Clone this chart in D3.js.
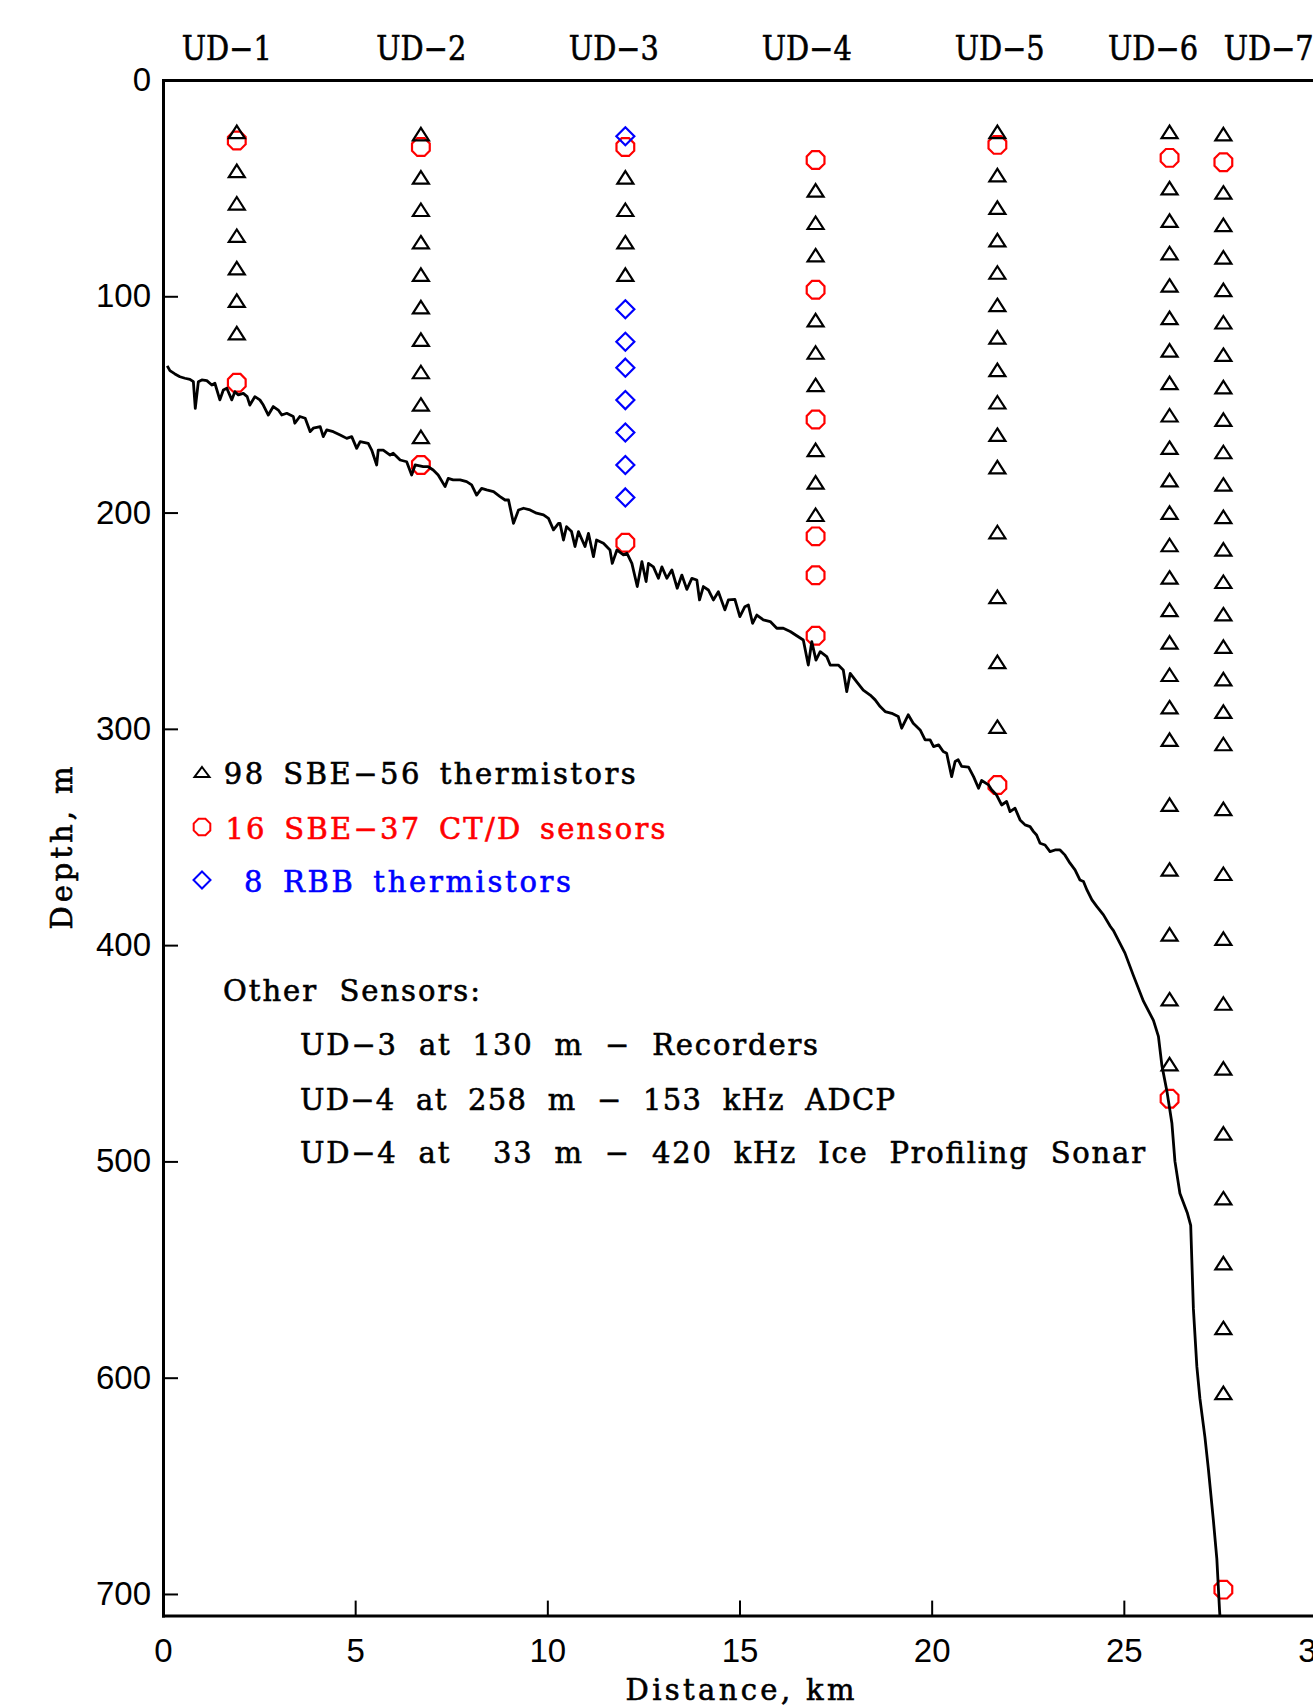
<!DOCTYPE html>
<html><head><meta charset="utf-8">
<script src="https://cdn.jsdelivr.net/npm/d3@7"></script>
<style>html,body{margin:0;padding:0;background:#fff;overflow:hidden}</style>
</head><body>
<svg id="chart" width="1313" height="1705" style="display:block"></svg>
<script>
// ---------------- data ----------------
const moorings   = ["UD−1","UD−2","UD−3","UD−4","UD−5","UD−6","UD−7"];
const mooringKm  = [1.92, 6.71, 12.03, 16.98, 21.71, 26.19, 27.59];
const labelKm    = [1.66, 6.72, 11.73, 16.75, 21.77, 25.76, 28.77];

const thermDepths = [
  [24, 42, 57, 72, 87, 102, 117],
  [25, 45, 60, 75, 90, 105, 120, 135, 150, 165],
  [45, 60, 75, 90],
  [51, 66, 81, 111, 126, 141, 171, 186, 201],
  [24, 44, 59, 74, 89, 104, 119, 134, 149, 164, 179, 209, 239, 269, 299],
  [24, 50, 65, 80, 95, 110, 125, 140, 155, 170, 185, 200, 215, 230, 245, 260, 275, 290, 305, 335, 365, 395, 425, 455],
  [25, 52, 67, 82, 97, 112, 127, 142, 157, 172, 187, 202, 217, 232, 247, 262, 277, 292, 307, 337, 367, 397, 427, 457, 487, 517, 547, 577, 607]
];
const ctdDepths = [
  [28, 140],
  [31, 178],
  [31, 214],
  [37, 97, 157, 211, 229, 257],
  [30, 326],
  [36, 471],
  [38, 698]
];
const rbbDepths = [
  [], [], [26, 106, 121, 133, 148, 163, 178, 193], [], [], [], []
];

const bathyKm = [0.11,0.18,0.31,0.44,0.57,0.70,0.79,0.84,0.92,1.01,1.14,1.27,1.35,1.48,1.57,1.66,1.79,1.87,1.96,2.09,2.19,2.26,2.39,2.52,2.61,2.74,2.87,3.00,3.09,3.22,3.39,3.43,3.56,3.70,3.83,3.91,4.09,4.17,4.26,4.43,4.61,4.78,4.91,5.04,5.13,5.34,5.43,5.56,5.60,5.73,5.91,5.99,6.17,6.34,6.47,6.56,6.77,6.90,7.03,7.16,7.34,7.42,7.55,7.73,7.90,8.03,8.16,8.29,8.42,8.60,8.77,8.90,8.99,9.12,9.25,9.38,9.55,9.72,9.90,10.03,10.16,10.29,
  10.33,10.42,10.50,10.63,10.72,10.81,10.98,11.07,11.20,11.28,11.46,11.63,11.69,11.81,11.98,12.07,12.20,12.34,12.46,12.57,12.63,12.76,12.89,12.98,13.11,13.24,13.38,13.50,13.63,13.76,13.89,13.96,14.06,14.19,14.32,14.45,14.62,14.71,14.88,15.01,15.14,15.23,15.34,15.45,15.62,15.80,15.97,16.14,16.32,16.53,16.66,16.79,16.88,16.99,17.10,17.27,17.36,17.57,17.70,17.79,17.88,18.05,18.22,18.40,18.53,18.66,18.79,18.96,19.13,19.22,19.39,19.52,19.70,
  19.83,19.96,20.05,20.18,20.30,20.39,20.52,20.61,20.69,20.78,20.96,21.09,21.22,21.30,21.48,21.56,21.69,21.82,21.95,22.04,22.17,22.30,22.43,22.56,22.65,22.73,22.82,22.95,23.08,23.21,23.34,23.47,23.60,23.73,23.86,23.95,24.04,24.17,24.30,24.47,24.65,
  24.73,25.03,25.25,25.51,25.77,25.90,25.99,26.12,26.25,26.33,26.46,26.65,26.74,26.81,26.90,26.98,27.11,27.20,27.33,27.42,27.49,27.50];
const bathyDepth = [132.2,134.4,135.9,137.2,137.9,138.4,139.5,151.8,139.5,138.7,139.0,141.0,140.2,147.9,143.3,142.5,147.9,144.1,145.6,144.9,146.4,150.3,146.4,147.9,150.3,154.9,151.0,152.6,154.9,154.1,155.6,158.7,155.6,156.4,162.6,161.0,160.3,164.9,161.8,162.6,164.1,165.7,164.9,170.3,167.2,168.0,171.1,178.0,171.1,171.1,173.4,172.6,175.7,176.5,182.6,178.0,178.8,178.8,180.3,182.6,188.0,184.2,184.9,184.9,185.7,187.2,191.9,188.8,189.5,190.3,192.6,194.2,194.2,205.0,198.8,198.0,198.8,200.3,201.1,202.7,208.0,205.0,
  205.0,212.7,206.5,208.8,215.7,208.8,215.7,209.6,220.4,212.7,214.2,217.3,223.5,217.3,219.6,218.8,223.5,234.2,222.7,231.9,223.5,225.1,230.4,225.1,230.4,226.5,235.0,228.9,235.5,230.4,231.2,240.4,234.2,235.8,240.4,236.6,245.0,240.4,240.1,248.1,243.5,242.7,251.2,247.4,249.6,250.4,253.5,253.5,255.0,257.4,258.9,270.5,259.7,268.2,264.3,266.6,270.5,270.5,272.8,282.8,274.4,278.3,282.1,284.4,286.6,289.7,292.0,292.8,294.3,299.7,293.5,297.4,300.5,
  305.1,305.1,308.2,307.4,310.5,311.3,322.1,315.1,314.3,317.4,317.7,322.1,327.5,323.9,325.9,328.2,330.6,335.2,333.6,338.3,336.7,342.1,344.4,345.2,347.5,349.1,352.9,353.7,356.8,356.0,356.0,358.4,362.1,365.2,369.9,370.6,374.5,379.1,382.2,386.0,391.4,
  393.3,403.7,414.1,425.9,434.8,442.2,455.6,467.4,482.2,500.0,514.8,523.7,529.6,568.2,594.9,609.7,627.5,642.3,666.0,683.8,707.5,710.0];

const xTicks = [0, 5, 10, 15, 20, 25, 30];
const yTicks = [0, 100, 200, 300, 400, 500, 600, 700];
const legendLabels = ["98 SBE−56 thermistors", "16 SBE−37 CT/D sensors", "8 RBB thermistors"];
const legendColors = ["#000000", "#ff0000", "#0000ff"];
const otherSensors = ["Other Sensors:",
  "UD−3 at 130 m − Recorders",
  "UD−4 at 258 m − 153 kHz ADCP",
  "UD−4 at  33 m − 420 kHz Ice Profiling Sonar"];

// ---------------- drawing ----------------
const svg = d3.select("#chart");
const SERIF = "'DejaVu Serif', serif";
const SANS = "'Liberation Sans', Arial, sans-serif";

const x = d3.scaleLinear().domain([0, 30]).range([163, 1316]);
const y = d3.scaleLinear().domain([0, 710]).range([80, 1615.6]);

const triPath = (w, h) => `M0,${-h/2}L${w/2},${h/2}L${-w/2},${h/2}Z`;
const octPath = (R) => {
  const pts = d3.range(8).map(k => {
    const a = (22.5 + 45 * k) * Math.PI / 180;
    return [R * Math.cos(a), R * Math.sin(a)];
  });
  return "M" + pts.map(p => p[0].toFixed(2) + "," + p[1].toFixed(2)).join("L") + "Z";
};
const diaPath = (r) => `M0,${-r}L${r},0L0,${r}L${-r},0Z`;

// axes
const gL = svg.append("g").attr("transform", `translate(${x(0)},0)`)
  .call(d3.axisLeft(y).tickValues(yTicks).tickSizeInner(-15).tickSizeOuter(0).tickPadding(12));
const gB = svg.append("g").attr("transform", `translate(0,${y(710)})`)
  .call(d3.axisBottom(x).tickValues(xTicks).tickSizeInner(-15).tickSizeOuter(0).tickPadding(23));
const gT = svg.append("g").attr("transform", `translate(0,${y(0)})`)
  .call(d3.axisTop(x).tickValues([]).tickSizeOuter(0));
const gR = svg.append("g").attr("transform", `translate(${x(30)},0)`)
  .call(d3.axisRight(y).tickValues([]).tickSizeOuter(0));
[gL, gB, gT, gR].forEach(g => {
  g.attr("font-family", SANS).attr("font-size", 33);
  g.select(".domain").attr("stroke", "#000").attr("stroke-width", 3).attr("stroke-linecap", "square");
  g.selectAll(".tick line").attr("stroke", "#000").attr("stroke-width", 2);
  g.selectAll(".tick text").attr("fill", "#000");
});

// mooring labels (top)
svg.append("g").selectAll("text").data(moorings).join("text")
  .attr("x", (d, i) => x(labelKm[i]))
  .attr("y", 60)
  .attr("text-anchor", "middle")
  .attr("font-family", SERIF).attr("font-size", 33)
  .attr("stroke", "#000").attr("stroke-width", 0.6)
  .attr("textLength", 90).attr("lengthAdjust", "spacingAndGlyphs")
  .text(d => d);

// markers
const flat = (arr) => arr.flatMap((ds, i) => ds.map(d => ({km: mooringKm[i], depth: d})));
const gM = svg.append("g").attr("fill", "none").attr("stroke-width", 2.2);
gM.selectAll("path.ctd").data(flat(ctdDepths)).join("path").attr("class", "ctd")
  .attr("d", octPath(9.6)).attr("stroke", "#ff0000")
  .attr("transform", d => `translate(${x(d.km)},${y(d.depth)})`);
gM.selectAll("path.rbb").data(flat(rbbDepths)).join("path").attr("class", "rbb")
  .attr("d", diaPath(9)).attr("stroke", "#0000ff")
  .attr("transform", d => `translate(${x(d.km)},${y(d.depth)})`);
gM.selectAll("path.therm").data(flat(thermDepths)).join("path").attr("class", "therm")
  .attr("d", triPath(16, 12.5)).attr("stroke", "#000")
  .attr("transform", d => `translate(${x(d.km)},${y(d.depth)})`);

// bathymetry
const line = d3.line().x(d => x(d[0])).y(d => y(d[1]));
svg.append("path").datum(bathyKm.map((k, i) => [k, bathyDepth[i]]))
  .attr("d", line).attr("fill", "none").attr("stroke", "#000")
  .attr("stroke-width", 2.8).attr("stroke-linejoin", "round");

// legend
const legX = [223.7, 225.4, 244];
const legY = [784, 839, 892];
const legW = [412, 440, 327];
const legShapes = [triPath(15, 10), octPath(9), diaPath(8.5)];
const gLeg = svg.append("g");
legendLabels.forEach((t, i) => {
  gLeg.append("path").attr("d", legShapes[i]).attr("fill", "none")
    .attr("stroke", legendColors[i]).attr("stroke-width", 2)
    .attr("transform", `translate(202,${legY[i] - 12})`);
  gLeg.append("text").attr("x", legX[i]).attr("y", legY[i])
    .attr("font-family", SERIF).attr("font-size", 29).attr("fill", legendColors[i])
    .attr("stroke", legendColors[i]).attr("stroke-width", 0.6)
    .attr("word-spacing", 6)
    .attr("textLength", legW[i]).attr("lengthAdjust", "spacing")
    .text(t);
});

// other sensors
const osX = [223, 300, 300, 300];
const osY = [1001, 1055, 1110, 1163];
const osW = [257, 518, 595, 845];
otherSensors.forEach((t, i) => {
  svg.append("text").attr("x", osX[i]).attr("y", osY[i])
    .attr("font-family", SERIF).attr("font-size", 29).attr("fill", "#000")
    .attr("stroke", "#000").attr("stroke-width", 0.6)
    .style("white-space", "pre").attr("word-spacing", 10)
    .attr("textLength", osW[i]).attr("lengthAdjust", "spacing")
    .text(t);
});

// axis titles
svg.append("text").attr("transform", "translate(72,848) rotate(-90)")
  .attr("text-anchor", "middle").attr("font-family", SERIF).attr("font-size", 29)
  .attr("stroke", "#000").attr("stroke-width", 0.6)
  .attr("textLength", 163).attr("lengthAdjust", "spacing")
  .text("Depth, m");
svg.append("text").attr("x", 740).attr("y", 1700)
  .attr("text-anchor", "middle").attr("font-family", SERIF).attr("font-size", 29)
  .attr("stroke", "#000").attr("stroke-width", 0.6)
  .attr("textLength", 229).attr("lengthAdjust", "spacing")
  .text("Distance, km");
</script>
</body></html>
